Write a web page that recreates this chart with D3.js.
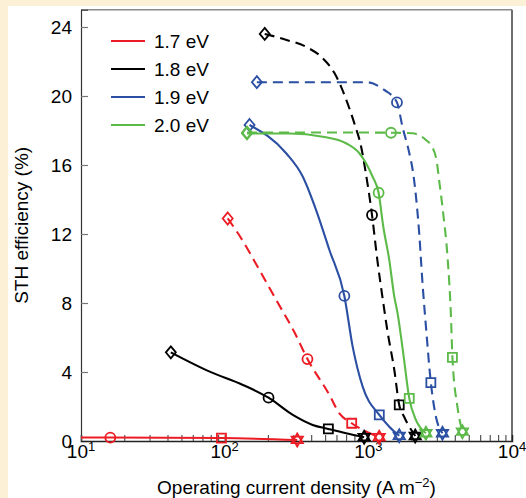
<!DOCTYPE html>
<html>
<head>
<meta charset="utf-8">
<script src="https://cdn.jsdelivr.net/npm/d3@7"></script>
<style>
  body { margin: 0; background: #ffffff; }
  text { font-family: "Liberation Sans", Arial, Helvetica, sans-serif; fill: #000; }
</style>
</head>
<body>
<svg id="chart" width="526" height="498"></svg>
<script>
// Band gaps shown in the legend and their colours
const bandLabels = ["1.7 eV", "1.8 eV", "1.9 eV", "2.0 eV"];
const bandColors = ["#ec1c24", "#000000", "#2b4fa3", "#5cba48"];

// Axis ticks
const yTicks = [0, 4, 8, 12, 16, 20, 24];
const xTickExps = [1, 2, 3, 4];

// Operating current density (A m^-2), STH efficiency (%), marker kind per point
// 1.7 eV
const j17s   = [10, 16, 95, 320];
const eta17s = [0.2, 0.2, 0.17, 0.06];
const mk17s  = [null, "circle", "square", "star"];

const j17d   = [105, 127, 175, 235, 306, 377, 536, 629, 766, 1190];
const eta17d = [12.9, 11.9, 9.9, 8.0, 6.3, 4.75, 2.67, 1.6, 1.03, 0.22];
const mk17d  = ["diamond", null, null, null, null, "circle", null, null, "square", "star"];

// 1.8 eV
const j18s   = [42.2, 78.7, 134, 202, 298, 410, 527, 700, 935];
const eta18s = [5.14, 4.02, 3.25, 2.51, 1.51, 0.93, 0.70, 0.45, 0.22];
const mk18s  = ["diamond", null, null, "circle", null, null, "square", null, "star"];

const j18d   = [190, 270, 371, 480, 581, 649, 715, 800, 894, 953, 1061, 1155, 1271, 1355, 1516, 1641, 1778, 2120];
const eta18d = [23.6, 23.25, 22.84, 22.2, 21.33, 20.5, 19.6, 18.4, 17.0, 15.7, 13.1, 10.5, 8.0, 6.43, 4.12, 2.09, 1.39, 0.29];
const mk18d  = ["diamond", null, null, null, null, null, null, null, null, null, "circle", null, null, null, null, "square", null, "star"];

// 1.9 eV
const j19s   = [149, 268, 350, 433, 536, 681, 778, 913, 1192, 1399, 1641];
const eta19s = [18.32, 16.68, 15.32, 13.39, 11.07, 8.41, 5.47, 3.15, 1.51, 0.83, 0.3];
const mk19s  = ["diamond", null, null, null, null, "circle", null, null, "square", null, "star"];

const j19d   = [167.5, 536, 968, 1291, 1582, 1730, 1927, 2054, 2259, 2388, 2529, 2724, 2919, 3281];
const eta19d = [20.8, 20.8, 20.8, 20.35, 19.63, 18.2, 16.7, 15.5, 12.06, 9.04, 6.43, 3.38, 1.62, 0.45];
const mk19d  = ["diamond", null, null, null, "circle", null, null, null, null, null, null, "square", null, "star"];

// 2.0 eV
const j20s   = [143, 283, 482, 700, 866, 964, 1071, 1179, 1271, 1399, 1516, 1598, 1750, 1927, 2143, 2517];
const eta20s = [17.83, 17.83, 17.64, 17.26, 16.68, 16.1, 15.32, 14.39, 12.42, 10.49, 8.37, 7.4, 5.08, 2.47, 1.22, 0.45];
const mk20s  = ["diamond", null, null, null, null, null, null, "circle", null, null, null, null, null, "square", null, "star"];

const j20d   = [143, 1000, 1438, 2031, 2517, 2724, 2981, 3112, 3319, 3556, 3752, 3849, 4170, 4518];
const eta20d = [17.88, 17.88, 17.87, 17.84, 17.45, 17.16, 16.3, 15.1, 13.2, 10.7, 7.4, 4.85, 1.99, 0.54];
const mk20d  = ["diamond", null, "circle", null, null, null, null, null, null, null, null, "square", null, "star"];

const curves = [
  { band: 0, dashed: false, j: j17s, eta: eta17s, mk: mk17s },
  { band: 0, dashed: true,  j: j17d, eta: eta17d, mk: mk17d },
  { band: 1, dashed: false, j: j18s, eta: eta18s, mk: mk18s },
  { band: 1, dashed: true,  j: j18d, eta: eta18d, mk: mk18d },
  { band: 2, dashed: false, j: j19s, eta: eta19s, mk: mk19s },
  { band: 2, dashed: true,  j: j19d, eta: eta19d, mk: mk19d },
  { band: 3, dashed: false, j: j20s, eta: eta20s, mk: mk20s },
  { band: 3, dashed: true,  j: j20d, eta: eta20d, mk: mk20d }
];

const svg = d3.select("#chart");
const W = 526, H = 498;

// cream page margin on the top and left, white panel for the figure
svg.append("rect").attr("width", W).attr("height", H).attr("fill", "#fcf0d7");
svg.append("rect").attr("x", 8).attr("y", 6).attr("width", W - 8).attr("height", H - 6).attr("fill", "#ffffff");

const plot = { left: 81, right: 512, top: 9.75, bottom: 441 };
const x = d3.scaleLog().domain([10, 1e4]).range([plot.left, plot.right]);
const y = d3.scaleLinear().domain([0, 25]).range([plot.bottom, plot.top]);

// frame: grey top and right edges
svg.append("line").attr("x1", plot.left).attr("x2", plot.right).attr("y1", plot.top).attr("y2", plot.top)
  .attr("stroke", "#8a8a8a").attr("stroke-width", 1.5);
svg.append("line").attr("x1", plot.right).attr("x2", plot.right).attr("y1", plot.top).attr("y2", plot.bottom)
  .attr("stroke", "#6e6e6e").attr("stroke-width", 2);

// y axis with inward ticks
const yAxis = d3.axisLeft(y).tickValues(yTicks).tickSize(-7).tickFormat("");
const gy = svg.append("g").attr("transform", `translate(${plot.left},0)`).call(yAxis);
gy.select(".domain").attr("stroke", "#333").attr("stroke-width", 1.2);
gy.selectAll(".tick line").attr("stroke", "#777").attr("stroke-width", 1.2);
svg.append("g").selectAll("text").data(yTicks).join("text")
  .attr("x", 72).attr("y", d => y(d)).attr("dy", "0.36em")
  .attr("text-anchor", "end").attr("font-size", 19).text(d => d);

// x axis: log scale, minor ticks pointing inward
const xTickVals = [];
for (let e = 1; e <= 3; e++) for (let m = 1; m <= 9; m++) xTickVals.push(m * Math.pow(10, e));
const xAxis = d3.axisBottom(x).tickValues(xTickVals).tickSize(-6).tickFormat("");
const gx = svg.append("g").attr("transform", `translate(0,${plot.bottom})`).call(xAxis);
gx.select(".domain").attr("stroke", "#222").attr("stroke-width", 1.5);
gx.selectAll(".tick line").attr("stroke", "#555").attr("stroke-width", 1.2);

const xl = svg.append("g").selectAll("text").data(xTickExps).join("text")
  .attr("x", d => x(Math.pow(10, d))).attr("y", 458)
  .attr("text-anchor", "middle").attr("font-size", 19);
xl.append("tspan").text("10");
xl.append("tspan").attr("font-size", 13).attr("dy", -7).text(d => d);

// axis titles
const xt = svg.append("text").attr("x", (plot.left + plot.right) / 2).attr("y", 494)
  .attr("text-anchor", "middle").attr("font-size", 19);
xt.append("tspan").text("Operating current density (A m");
xt.append("tspan").attr("font-size", 13).attr("dy", -7).text("\u22122");
xt.append("tspan").attr("dy", 7).text(")");

svg.append("text")
  .attr("transform", `translate(28,${(plot.top + plot.bottom) / 2}) rotate(-90)`)
  .attr("text-anchor", "middle").attr("font-size", 19)
  .text("STH efficiency (%)");

// marker shapes
function markerPath(kind) {
  if (kind === "diamond") return "M0,-6L5,0L0,6L-5,0Z";
  if (kind === "square") return "M-4.5,-4.5H4.5V4.5H-4.5Z";
  if (kind === "circle") return "M5,0A5,5 0 1,1 -5,0A5,5 0 1,1 5,0Z";
  // hexagram drawn as two overlapping triangles
  const r = 6.5, p = [];
  for (const off of [-90, 90]) {
    const pts = [0, 120, 240].map(a => {
      const t = (a + off) * Math.PI / 180;
      return [r * Math.cos(t), r * Math.sin(t)];
    });
    p.push("M" + pts.map(q => q[0].toFixed(2) + "," + q[1].toFixed(2)).join("L") + "Z");
  }
  return p.join("");
}

const line = d3.line().x(d => x(d[0])).y(d => y(d[1])).curve(d3.curveMonotoneX);

const gCurves = svg.append("g");
curves.forEach(c => {
  const pts = c.j.map((v, i) => [v, c.eta[i], c.mk[i]]);
  const col = bandColors[c.band];
  gCurves.append("path").datum(pts)
    .attr("d", line)
    .attr("fill", "none").attr("stroke", col).attr("stroke-width", 2.1)
    .attr("stroke-dasharray", c.dashed ? "10,6" : null);
  gCurves.append("g").selectAll("path").data(pts.filter(p => p[2])).join("path")
    .attr("transform", p => `translate(${x(p[0])},${y(p[1])})`)
    .attr("d", p => markerPath(p[2]))
    .attr("fill", "none").attr("stroke", col).attr("stroke-width", 1.8);
});

// legend
const lg = svg.append("g").selectAll("g").data(bandLabels).join("g")
  .attr("transform", (d, i) => `translate(0,${41 + i * 28})`);
lg.append("line").attr("x1", 111).attr("x2", 145).attr("y1", 0).attr("y2", 0)
  .attr("stroke", (d, i) => bandColors[i]).attr("stroke-width", 2.2);
lg.append("text").attr("x", 154).attr("y", 0).attr("dy", "0.36em")
  .attr("font-size", 19).text(d => d);
</script>
</body>
</html>
